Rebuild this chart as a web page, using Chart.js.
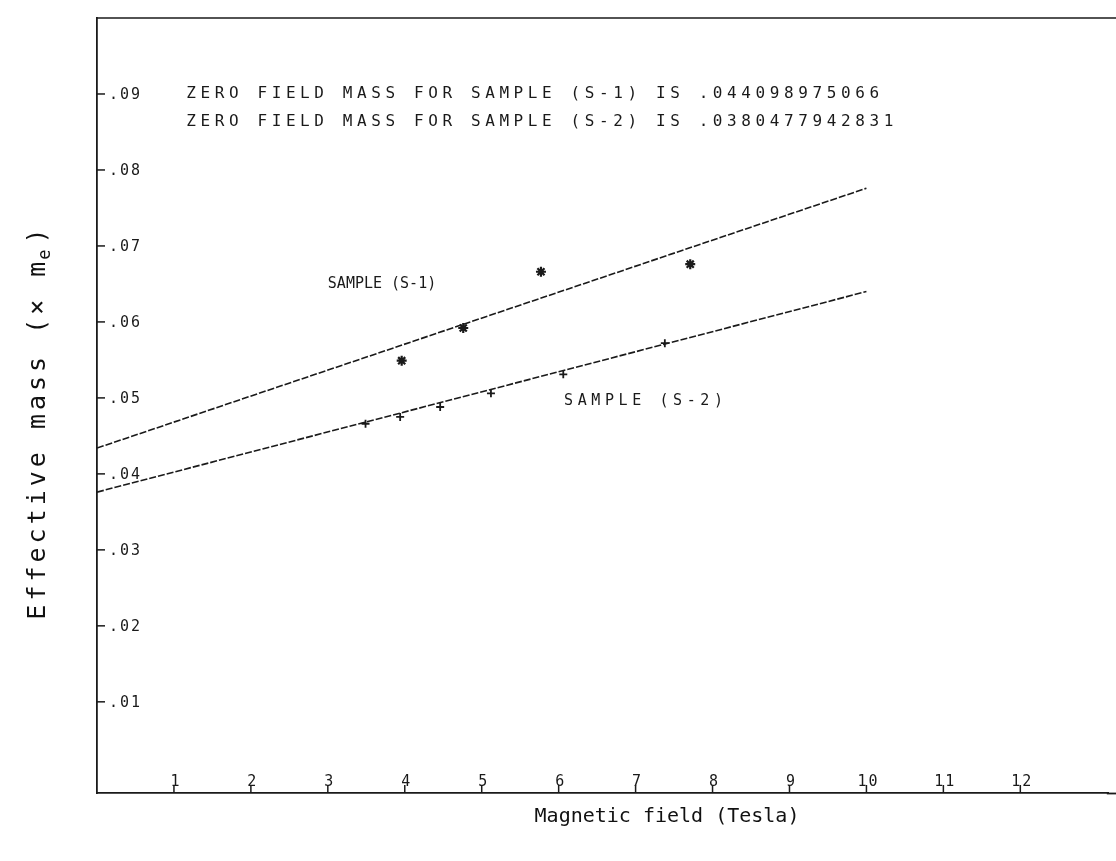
<!DOCTYPE html>
<html><head><meta charset="utf-8">
<script src="https://cdn.jsdelivr.net/npm/chart.js@4/dist/chart.umd.min.js"></script>
<style>html,body{margin:0;padding:0;background:#fff}#wrap{width:1116px;height:861px}</style>
</head><body><div id="wrap"><canvas id="c" width="1116" height="861"></canvas></div>
<script>
const xTicks=[1,2,3,4,5,6,7,8,9,10,11,12];
const xTickLabels=['1','2','3','4','5','6','7','8','9','10','11','12'];
const yTicks=[0.01,0.02,0.03,0.04,0.05,0.06,0.07,0.08,0.09];
const yTickLabels=['.01','.02','.03','.04','.05','.06','.07','.08','.09'];
const fitX=[0,10];
const fitS1=[0.0434,0.0776];
const fitS2=[0.0376,0.0640];
const s1X=[3.96,4.76,5.77,7.71];
const s1Y=[0.0549,0.0592,0.0666,0.0676];
const s2X=[3.49,3.94,4.46,5.12,6.06,7.38];
const s2Y=[0.0466,0.0475,0.0488,0.0506,0.0531,0.0572];
const notes=['ZERO FIELD MASS FOR SAMPLE (S-1) IS .044098975066','ZERO FIELD MASS FOR SAMPLE (S-2) IS .0380477942831'];
const noteX=[1.16,1.16];
const noteY=[0.0900,0.0863];
const seriesLabels=['SAMPLE (S-1)','SAMPLE (S-2)'];
const seriesLabelX=[3.0,6.07];
const seriesLabelY=[0.0650,0.0496];
const xTitle='Magnetic field (Tesla)';
const yTitle='Effective mass (\u00d7 m';

const pts=(xs,ys)=>xs.map((x,i)=>({x:x,y:ys[i]}));
const INK='#1a1a1a';
const MONO='"DejaVu Sans Mono", monospace';

const overlay={
  id:'overlay',
  afterDraw(chart){
    const ctx=chart.ctx, xs=chart.scales.x, ys=chart.scales.y, a=chart.chartArea;
    ctx.save();
    ctx.strokeStyle=INK; ctx.fillStyle=INK; ctx.lineWidth=1.5;
    ctx.beginPath(); ctx.moveTo(a.left,a.top); ctx.lineTo(1116,a.top); ctx.stroke();
    ctx.lineWidth=1.8;
    ctx.beginPath(); ctx.moveTo(a.right-2,a.bottom+0.5); ctx.lineTo(1116,a.bottom+0.5); ctx.stroke();
    ctx.lineWidth=1.5;
    ctx.font='15px '+MONO;
    ctx.letterSpacing='2px';
    ctx.textAlign='left'; ctx.textBaseline='middle';
    yTicks.forEach((v,i)=>{
      const py=ys.getPixelForValue(v);
      ctx.beginPath(); ctx.moveTo(a.left,py); ctx.lineTo(a.left+8,py); ctx.stroke();
      ctx.fillText(yTickLabels[i],a.left+12,py+1);
    });
    ctx.textAlign='center'; ctx.textBaseline='bottom';
    xTicks.forEach((v,i)=>{
      const px=xs.getPixelForValue(v);
      ctx.beginPath(); ctx.moveTo(px,a.bottom); ctx.lineTo(px,a.bottom-8); ctx.stroke();
      ctx.fillText(xTickLabels[i],px+2,a.bottom-3);
    });
    ctx.textAlign='left'; ctx.textBaseline='middle';
    ctx.font='16px '+MONO; ctx.letterSpacing='4.6px';
    notes.forEach((t,i)=>ctx.fillText(t,xs.getPixelForValue(noteX[i]),ys.getPixelForValue(noteY[i])));
    ctx.font='15px '+MONO; ctx.letterSpacing='0px';
    ctx.fillText(seriesLabels[0],xs.getPixelForValue(seriesLabelX[0]),ys.getPixelForValue(seriesLabelY[0]));
    ctx.letterSpacing='4.6px';
    ctx.fillText(seriesLabels[1],xs.getPixelForValue(seriesLabelX[1]),ys.getPixelForValue(seriesLabelY[1]));
    ctx.letterSpacing='0px';
    ctx.font='20px '+MONO; ctx.fillStyle='#111';
    ctx.textAlign='center'; ctx.textBaseline='middle';
    ctx.fillText(xTitle,667,817);
    ctx.save();
    ctx.translate(38,422); ctx.rotate(-Math.PI/2);
    ctx.font='25px '+MONO; ctx.letterSpacing='4px';
    const w=ctx.measureText(yTitle).width;
    ctx.font='17px '+MONO;
    const ew=ctx.measureText('e').width;
    ctx.font='25px '+MONO;
    const pw=ctx.measureText(')').width;
    const total=w+ew+pw;
    ctx.textAlign='left';
    ctx.fillText(yTitle,-total/2,0);
    ctx.font='17px '+MONO;
    ctx.fillText('e',-total/2+w-2,8);
    ctx.font='25px '+MONO;
    ctx.fillText(')',-total/2+w+ew,0);
    ctx.restore();
    ctx.restore();
  }
};

new Chart(document.getElementById('c'),{
  type:'scatter',
  data:{datasets:[
    {type:'line',data:pts(fitX,fitS1),borderColor:INK,borderWidth:1.6,borderDash:[7,2],pointRadius:0,fill:false,tension:0},
    {type:'line',data:pts(fitX,fitS2),borderColor:INK,borderWidth:1.6,borderDash:[7,2],pointRadius:0,fill:false,tension:0},
    {data:pts(s1X,s1Y),pointStyle:'star',radius:5,borderWidth:2.2,borderColor:INK,backgroundColor:INK},
    {data:pts(s2X,s2Y),pointStyle:'cross',radius:4,borderWidth:1.8,borderColor:INK,backgroundColor:INK}
  ]},
  options:{
    responsive:false,animation:false,devicePixelRatio:1,
    layout:{padding:{left:97,right:0,top:18,bottom:68}},
    plugins:{legend:{display:false},tooltip:{enabled:false}},
    scales:{
      x:{type:'linear',min:0,max:13.15,grid:{display:false,drawTicks:false},ticks:{display:false},border:{display:true,color:INK,width:1.8}},
      y:{type:'linear',min:-0.002,max:0.1,grid:{display:false,drawTicks:false},ticks:{display:false},border:{display:true,color:INK,width:1.8}}
    }
  },
  plugins:[overlay]
});
</script></body></html>
